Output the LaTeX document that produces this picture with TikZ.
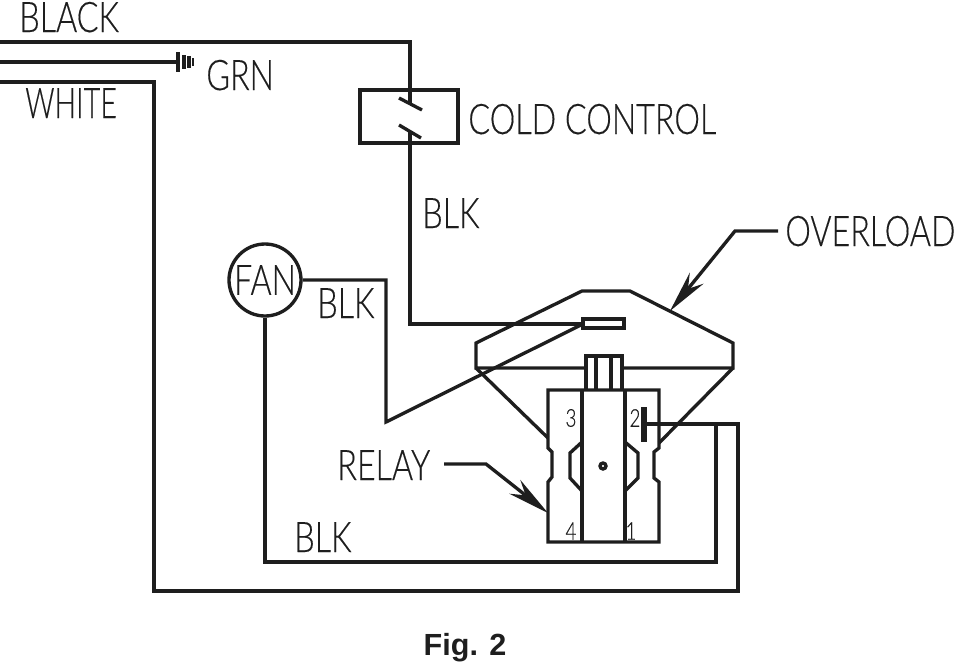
\documentclass[tikz,border=0pt]{standalone}
\usepackage{fontspec}
\setmainfont{Liberation Sans}
\newfontfamily\draftfont[FakeStretch=0.765,FakeBold=0.25]{Lato Light}
\usepackage{xcolor}
\usetikzlibrary{arrows.meta}
\definecolor{wireblack}{RGB}{30,30,30}

\tikzset{
	wire/.style={line width=1.9pt,color=wireblack,line join=miter},
	thin wire/.style={line width=1.6pt,color=wireblack},
	tag/.style={inner sep=0pt,anchor=base west,color=wireblack,font=\draftfont\fontsize{24}{24}\selectfont},
	pin/.style={inner sep=0pt,color=wireblack,font=\draftfont\fontsize{14}{14}\selectfont},
	pointer/.style={wire,-{Stealth[length=24pt,width=10pt]}},
}

\begin{document}
\begin{tikzpicture}[x=0.02cm,y=-0.02cm]
	\useasboundingbox (0,0) rectangle (961,670);

	\coordinate (B0) at (0,42);
	\coordinate (B1) at (410,42);
	\coordinate (B2) at (410,103);
	\coordinate (B3) at (410,132);
	\coordinate (B4) at (410,324);
	\coordinate (G0) at (0,62);
	\coordinate (G1) at (178,62);
	\coordinate (W0) at (0,82);
	\coordinate (W1) at (154,82);
	\coordinate (W2) at (154,591);
	\coordinate (W3) at (738,591);
	\coordinate (W4) at (738,424);
	\coordinate (W5) at (644,424);
	\coordinate (L1) at (716,424);
	\coordinate (L2) at (716,562);
	\coordinate (L3) at (265,562);
	\coordinate (F1) at (386,280);
	\coordinate (F2) at (386,422);

	% mains wires
	\draw[wire] (B0) - - (B1) - - (B2);
	\draw[wire] (B3) - - (B4) - - (583,324);
	\draw[wire] (G0) - - (G1);
	\draw[wire] (W0) - - (W1) - - (W2) - - (W3) - - (W4) - - (W5);

	% ground
	\draw[wire] (G1) ++(0,-10) - - ++(0,20);
	\draw[wire] (184,55) - - (184,69);
	\draw[wire] (189,56) - - (189,68);
	\draw[thin wire] (193,58) - - (193,66);

	% cold control
	\node[draw,wire,fill=none,minimum width=98*0.02cm,minimum height=53*0.02cm,inner sep=0pt] (cold) at (409,116.5) {};
	\draw[wire] (399,98) - - (422,110);
	\draw[wire] (399,125) - - (421,138);

	% fan
	\node[draw,wire,circle,inner sep=0pt,minimum size=72*0.02cm,font=\draftfont\fontsize{24}{24}\selectfont] (fan) at (265,280) {FAN};
	\draw[wire] (fan.east) - - (F1) - - (F2) - - (583,324);
	\draw[wire] (fan.south) - - (L3) - - (L2) - - (L1);

	% overload
	\draw[wire] (586,368) - - (476,368) - - (476,343) - - (582,291) - - (630,291) - - (733,343) - - (733,368) - - (622,368);
	\draw[wire,fill=white] (583,319) rectangle (624,328);
	\draw[wire] (476,368) - - (548,438);
	\draw[wire] (733,368) - - (659,443);

	% relay
	\draw[wire] (586,390) - - (586,356) - - (622,356) - - (622,390);
	\draw[wire] (596,356) - - (596,390);
	\draw[wire] (611,356) - - (611,390);
	\draw[wire] (548,438) - - (548,448) - - (552,452) - - (552,477) - - (548,482) - - (548,542) - - (659,542) - - (659,482) - - (654,478) - - (654,452) - - (659,448) - - (659,390) - - (548,390) - - (548,438);
	\draw[wire] (582,390) - - (582,542);
	\draw[wire] (625,390) - - (625,542);
	\draw[wire] (582,442) - - (570,453) - - (570,478) - - (582,491);
	\draw[wire] (625,442) - - (638,453) - - (638,478) - - (625,491);
	\draw[wire] (603,466) circle (3);
	\draw[line width=3pt,color=wireblack] (644,407) - - (644,442);

	% pointers
	\draw[pointer] (778,231) - - (735,231) - - (670,311);
	\draw[pointer] (444,464) - - (486,464) - - (548,513);

	\node[tag] (black) at (19,32) {BLACK};
	\node[tag] (grn) at (206,90) {GRN};
	\node[tag,xscale=0.89,transform shape] (white) at (25,118) {WHITE};
	\node[tag] (coldlabel) at (468,134) {COLD CONTROL};
	\node[tag] (blka) at (422,228) {BLK};
	\node[tag] (overload) at (785,246) {OVERLOAD};
	\node[tag] (blkb) at (317,318) {BLK};
	\node[tag] (relay) at (337,480) {RELAY};
	\node[tag] (blkc) at (294,552) {BLK};

	\node[pin] (p3) at (571,418) {3};
	\node[pin] (p2) at (635,418) {2};
	\node[pin] (p4) at (571,531) {4};
	\node[pin] (p1) at (631,531) {1};

	\node[inner sep=0pt,font=\bfseries\fontsize{17.4}{17.4}\selectfont,color=wireblack] (fig) at (465,648) {Fig. 2};
\end{tikzpicture}
\end{document}
